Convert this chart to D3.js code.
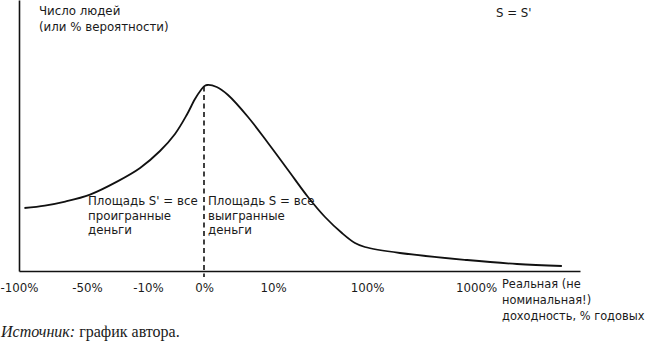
<!DOCTYPE html>
<html>
<head>
<meta charset="utf-8">
<script src="https://cdn.jsdelivr.net/npm/d3@7"></script>
<style>
  html, body { margin: 0; padding: 0; background: #fff; }
  svg { display: block; }
  .lbl { font-family: "DejaVu Sans", sans-serif; font-size: 11.8px; fill: #1a1a1a; }
  .xt { font-size: 11.4px; }
  .src { font-family: "Liberation Serif", serif; font-size: 16px; fill: #1a1a1a; }
</style>
</head>
<body>
<svg id="chart" width="647" height="343"></svg>
<script>
// Real annual return, % (x) and relative number of people (y)
const returns = [-96, -81, -66, -48, -30, -15.2, -7.86, -5.18, -3.09, -1.61, -0.55, 0, 0.45, 1.84, 3.48, 6.38, 9.28, 24.4, 43.5, 59.8, 76, 88.5, 98, 372, 926, 1339, 1710];
const people  = [31.5, 32.7, 34.7, 38.2, 44.8, 51.5, 60, 68.5, 78, 86, 90.5, 92.3, 93, 92, 88, 77, 64, 50.5, 37, 27, 19, 14, 12, 9, 5.5, 3.5, 2.5];

// Axis tick values (non-uniform return scale)
const tickValues = [-100, -50, -10, 0, 10, 100, 1000];
const axisEnd = 1860;

const yLabel = ["Число людей", "(или % вероятности)"];
const xLabel = ["Реальная (не", "номинальная!)", "доходность, % годовых"];
const lossText = ["Площадь S' = все", "проигранные", "деньги"];
const gainText = ["Площадь S = все", "выигранные", "деньги"];
const equality = "S = S'";

const svg = d3.select("#chart");

const x = d3.scaleLinear()
  .domain([...tickValues, axisEnd])
  .range([19, 87, 148, 204, 273, 367, 476, 580]);

const y = d3.scaleLinear()
  .domain([0, 135.5])
  .range([271, 0]);

// Axes
const xAxis = d3.axisBottom(x)
  .tickValues(tickValues)
  .tickSize(0)
  .tickSizeOuter(0)
  .tickPadding(13)
  .tickFormat(d => (d < 0 ? "-" + Math.abs(d) : d) + "%");

const gx = svg.append("g").attr("transform", `translate(0,${y(0)})`).call(xAxis);
gx.select(".domain").attr("stroke", "#111").attr("stroke-width", 1.6);
gx.selectAll("text").attr("class", "lbl").attr("fill", null).attr("font-family", null).attr("font-size", null);

const yAxis = d3.axisLeft(y).tickValues([]).tickSizeOuter(0);
const gy = svg.append("g").attr("transform", `translate(${x(-100)},0)`).call(yAxis);
gy.select(".domain").attr("stroke", "#111").attr("stroke-width", 1.6);

// Dashed divider at 0%
const peakAtZero = people[returns.indexOf(0)];
svg.append("line")
  .attr("x1", x(0)).attr("x2", x(0))
  .attr("y1", y(peakAtZero)).attr("y2", y(0) + 6)
  .attr("stroke", "#111")
  .attr("stroke-width", 1.6)
  .attr("stroke-dasharray", "5,3.5");

// Distribution curve
const pts = returns.map((r, i) => [r, people[i]]);
svg.append("path")
  .datum(pts)
  .attr("fill", "none")
  .attr("stroke", "#111")
  .attr("stroke-width", 1.8)
  .attr("d", d3.line().x(d => x(d[0])).y(d => y(d[1])).curve(d3.curveCatmullRom.alpha(0.5)));

// Text blocks
function block(lines, x0, y0, lh, cls) {
  const t = svg.append("text").attr("class", "lbl" + (cls ? " " + cls : "")).attr("x", x0).attr("y", y0);
  lines.forEach((s, i) => t.append("tspan").attr("x", x0).attr("dy", i ? lh : 0).text(s));
  return t;
}
block(yLabel, 39, 15, 15.5);
block([equality], 496, 17, 15);
block(lossText, 88, 205, 14.5);
block(gainText, 208, 205, 14.5);
block(xLabel, 502, 288, 16, "xt");

const src = svg.append("text").attr("class", "src").attr("x", 1).attr("y", 337);
src.append("tspan").attr("font-style", "italic").text("Источник:");
src.append("tspan").text(" график автора.");
</script>
</body>
</html>
